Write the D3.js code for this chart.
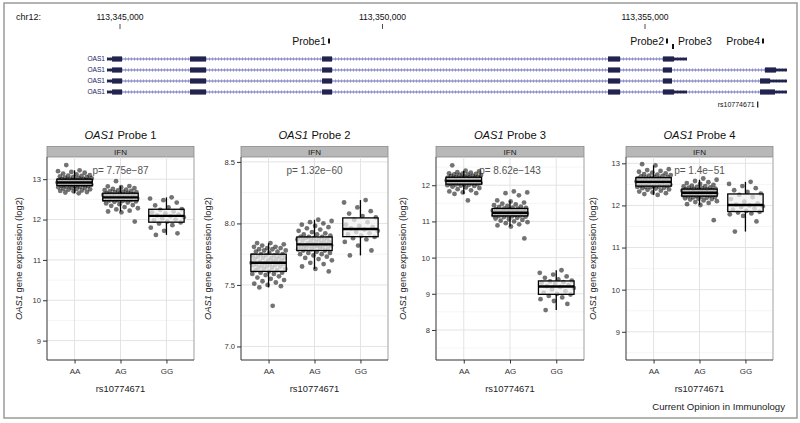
<!DOCTYPE html>
<html>
<head>
<meta charset="utf-8">
<script src="https://cdn.jsdelivr.net/npm/d3@7"></script>
<style>
  html, body { margin: 0; padding: 0; background: #fff; }
  svg { display: block; font-family: "Liberation Sans", Arial, Helvetica, sans-serif; }
</style>
</head>
<body>
<svg id="fig" width="800" height="423"></svg>
<script>
// ---------- data ----------
const genotypes = ["AA", "AG", "GG"];
const probeNames = ["Probe 1", "Probe 2", "Probe 3", "Probe 4"];
const pLabels = ["p= 7.75e\u221287", "p= 1.32e\u221260", "p= 8.62e\u2212143", "p= 1.4e\u221251"];

const probe1AA = [12.65, 12.67, 12.68, 12.70, 12.71, 12.72, 12.74, 12.75, 12.76, 12.77, 12.78, 12.79, 12.80, 12.81, 12.82, 12.83, 12.83,
  12.84, 12.85, 12.85, 12.86, 12.86, 12.87, 12.87, 12.88, 12.88, 12.89, 12.89, 12.90, 12.90, 12.90, 12.91, 12.91, 12.92, 12.92,
  12.92, 12.93, 12.93, 12.94, 12.94, 12.95, 12.95, 12.96, 12.96, 12.97, 12.97, 12.98, 12.98, 12.99, 12.99, 12.99, 13.00, 13.00,
  13.01, 13.02, 13.03, 13.04, 13.05, 13.06, 13.07, 13.08, 13.09, 13.10, 13.12, 13.14, 13.16, 13.18, 13.20, 13.22, 13.35];
const probe1AG = [11.95, 12.18, 12.20, 12.22, 12.25, 12.28, 12.31, 12.34, 12.36, 12.38, 12.40, 12.42, 12.44, 12.45, 12.46,
  12.47, 12.48, 12.48, 12.49, 12.50, 12.50, 12.51, 12.51, 12.52, 12.52, 12.53, 12.53, 12.54, 12.54, 12.55,
  12.55, 12.56, 12.56, 12.57, 12.58, 12.58, 12.59, 12.60, 12.60, 12.61, 12.62, 12.62, 12.63, 12.64, 12.65,
  12.66, 12.67, 12.68, 12.69, 12.70, 12.71, 12.72, 12.73, 12.74, 12.76, 12.78, 12.80, 12.82, 12.83, 12.95];
const probe1GG = [11.62, 11.66, 11.72, 11.80, 11.86, 11.90, 11.93, 11.95, 11.98, 12.00, 12.03, 12.06, 12.08, 12.10,
  12.12, 12.15, 12.18, 12.20, 12.24, 12.26, 12.30, 12.35, 12.42, 12.48, 12.52, 12.55];

const probe2AA = [7.33, 7.48, 7.49, 7.50, 7.51, 7.52, 7.53, 7.54, 7.55, 7.56, 7.57, 7.58, 7.59, 7.59, 7.60, 7.60,
  7.61, 7.62, 7.62, 7.63, 7.63, 7.64, 7.64, 7.65, 7.65, 7.66, 7.66, 7.66, 7.67, 7.67, 7.67, 7.68,
  7.68, 7.68, 7.69, 7.69, 7.70, 7.70, 7.71, 7.71, 7.72, 7.72, 7.72, 7.73, 7.73, 7.74, 7.74, 7.74,
  7.75, 7.75, 7.76, 7.77, 7.77, 7.78, 7.78, 7.79, 7.79, 7.80, 7.80, 7.81, 7.81, 7.82, 7.83, 7.84, 7.84];
const probe2AG = [7.61, 7.63, 7.65, 7.67, 7.68, 7.70, 7.71, 7.72, 7.73, 7.74, 7.75, 7.75, 7.76, 7.76, 7.77,
  7.78, 7.78, 7.79, 7.79, 7.80, 7.80, 7.80, 7.81, 7.81, 7.81, 7.82, 7.82, 7.82, 7.82, 7.83, 7.83,
  7.83, 7.84, 7.84, 7.85, 7.85, 7.86, 7.86, 7.86, 7.87, 7.87, 7.88, 7.88, 7.88, 7.89, 7.89, 7.89,
  7.90, 7.91, 7.91, 7.92, 7.93, 7.94, 7.95, 7.96, 7.97, 7.98, 7.99, 8.00, 8.01, 8.02, 8.03];
const probe2GG = [7.74, 7.78, 7.82, 7.85, 7.87, 7.88, 7.89, 7.90, 7.91, 7.92, 7.93, 7.94, 7.95, 7.96,
  7.97, 7.98, 7.99, 8.01, 8.03, 8.05, 8.06, 8.08, 8.10, 8.13, 8.17, 8.19];

const probe3AA = [11.58, 11.76, 11.78, 11.80, 11.83, 11.86, 11.89, 11.92, 11.94, 11.96, 11.98, 11.99, 12.00, 12.01, 12.02, 12.03,
  12.03, 12.04, 12.05, 12.05, 12.06, 12.07, 12.07, 12.08, 12.08, 12.09, 12.09, 12.10, 12.10, 12.11, 12.11, 12.12,
  12.12, 12.13, 12.13, 12.14, 12.15, 12.15, 12.16, 12.17, 12.17, 12.18, 12.18, 12.19, 12.20, 12.20, 12.21, 12.22,
  12.22, 12.23, 12.24, 12.25, 12.26, 12.27, 12.28, 12.29, 12.30, 12.31, 12.32, 12.33, 12.35, 12.36, 12.38, 12.40, 12.55];
const probe3AG = [10.53, 10.86, 10.89, 10.92, 10.95, 10.98, 11.00, 11.02, 11.04, 11.06, 11.08, 11.10, 11.12, 11.13, 11.14,
  11.15, 11.16, 11.17, 11.17, 11.18, 11.19, 11.19, 11.20, 11.20, 11.21, 11.21, 11.22, 11.22, 11.23, 11.23, 11.24,
  11.24, 11.25, 11.25, 11.26, 11.27, 11.27, 11.28, 11.29, 11.30, 11.30, 11.31, 11.32, 11.33, 11.34, 11.35, 11.36,
  11.37, 11.38, 11.40, 11.41, 11.43, 11.45, 11.47, 11.49, 11.52, 11.55, 11.58, 11.72, 11.78, 11.80, 11.83];
const probe3GG = [8.55, 8.72, 8.80, 8.85, 8.90, 8.94, 8.98, 9.00, 9.03, 9.07, 9.12, 9.16, 9.19, 9.21,
  9.24, 9.27, 9.30, 9.32, 9.34, 9.36, 9.40, 9.44, 9.48, 9.53, 9.58, 9.65];

const probe4AA = [12.25, 12.27, 12.29, 12.31, 12.33, 12.35, 12.37, 12.38, 12.40, 12.41, 12.42, 12.43, 12.44, 12.45, 12.45, 12.46,
  12.46, 12.47, 12.48, 12.49, 12.49, 12.50, 12.51, 12.51, 12.52, 12.53, 12.53, 12.54, 12.54, 12.55, 12.55, 12.56,
  12.56, 12.57, 12.57, 12.58, 12.59, 12.59, 12.60, 12.60, 12.61, 12.62, 12.62, 12.63, 12.63, 12.64, 12.64, 12.65,
  12.66, 12.67, 12.68, 12.69, 12.70, 12.71, 12.72, 12.73, 12.74, 12.76, 12.78, 12.80, 12.82, 12.84, 12.86, 12.95, 12.98];
const probe4AG = [11.65, 12.01, 12.03, 12.06, 12.08, 12.10, 12.12, 12.14, 12.15, 12.16, 12.17, 12.18, 12.19, 12.20, 12.21,
  12.22, 12.23, 12.23, 12.24, 12.25, 12.25, 12.26, 12.26, 12.27, 12.27, 12.28, 12.28, 12.29, 12.29, 12.30, 12.30,
  12.30, 12.31, 12.31, 12.32, 12.33, 12.33, 12.34, 12.34, 12.35, 12.35, 12.36, 12.37, 12.37, 12.38, 12.38, 12.39,
  12.40, 12.41, 12.42, 12.43, 12.44, 12.45, 12.46, 12.47, 12.49, 12.51, 12.53, 12.55, 12.58, 12.61, 12.64];
const probe4GG = [11.38, 11.62, 11.75, 11.79, 11.81, 11.83, 11.85, 11.87, 11.90, 11.93, 11.96, 11.98, 12.00,
  12.02, 12.05, 12.09, 12.15, 12.20, 12.25, 12.28, 12.32, 12.36, 12.41, 12.46, 12.51, 12.56];

const yDomains = [[8.52, 13.55], [6.89, 8.54], [7.17, 12.78], [8.33, 13.15]];
const yTicks = [[9, 10, 11, 12, 13], [7.0, 7.5, 8.0, 8.5], [8, 9, 10, 11, 12], [9, 10, 11, 12, 13]];
const yTickFormats = ["d", ".1f", "d", "d"];

// gene track (hg19 coordinates)
const coordTicks = [113345000, 113350000, 113355000];
const tx1 = [[113344752, 113344848, "utr"], [113344848, 113345038, "cds"], [113346333, 113346638, "cds"],
  [113348848, 113349038, "cds"], [113354295, 113354524, "cds"], [113355343, 113355552, "cds"], [113355552, 113355800, "utr"]];
const tx2 = [[113344752, 113344848, "utr"], [113344848, 113345038, "cds"], [113346333, 113346638, "cds"],
  [113348848, 113349038, "cds"], [113354295, 113354524, "cds"], [113355343, 113355514, "cds"],
  [113357286, 113357495, "cds"], [113357495, 113357705, "utr"]];
const tx3 = [[113344752, 113344848, "utr"], [113344848, 113345038, "cds"], [113346333, 113346638, "cds"],
  [113348848, 113349038, "cds"], [113354295, 113354524, "cds"], [113355343, 113355514, "cds"],
  [113357190, 113357381, "cds"], [113357381, 113357705, "utr"]];
const tx4 = [[113344752, 113344848, "utr"], [113344848, 113345038, "cds"], [113346333, 113346638, "cds"],
  [113348848, 113349038, "cds"], [113354295, 113354524, "cds"], [113355343, 113355552, "cds"], [113355552, 113355800, "utr"],
  [113357190, 113357476, "cds"], [113357476, 113357705, "utr"]];
const probeMarkNames = ["Probe1", "Probe2", "Probe3", "Probe4"];
const probeMarkPos = [113348981, 113355419, 113355533, 113357248];
const snpName = "rs10774671";
const snpPos = 113357147;

// ---------- layout ----------
const PANEL_X = [47, 241, 436, 626];
const PANEL_W = [147, 147, 148, 147];
const STRIP_TOP = 146.5, PANEL_TOP = 157, PANEL_BOTTOM = 360;
const YTITLE_OFF = [25, 30, 30, 30];
const BOX_W = 0.77, JITTER_W = 0.38;

const svg = d3.select("#fig");

svg.append("rect")
  .attr("x", 4).attr("y", 3).attr("width", 793).attr("height", 415)
  .attr("fill", "none").attr("stroke", "#9a9a9a").attr("stroke-width", 1.5);

// ---------- gene track ----------
function drawTrack() {
  const tx = d3.scaleLinear().domain([113345000, 113355000]).range([120, 645]);
  const g = svg.append("g").attr("class", "track");

  g.append("text").attr("x", 16).attr("y", 20)
    .attr("font-size", 9).attr("fill", "#111").text("chr12:");

  const fmt = d3.format(",");
  coordTicks.forEach(c => {
    g.append("text").attr("x", tx(c)).attr("y", 20).attr("text-anchor", "middle")
      .attr("font-size", 8.6).attr("fill", "#111").text(fmt(c));
    g.append("line").attr("x1", tx(c)).attr("x2", tx(c)).attr("y1", 24).attr("y2", 29)
      .attr("stroke", "#222").attr("stroke-width", 0.8);
  });

  probeMarkNames.forEach((name, i) => {
    const px = tx(probeMarkPos[i]);
    const low = name === "Probe3";
    g.append("rect").attr("x", px - 1).attr("y", low ? 44 : 38.5).attr("width", 2).attr("height", 5)
      .attr("fill", "#111");
    g.append("text")
      .attr("x", low ? px + 5 : px - 3)
      .attr("y", 44.5)
      .attr("text-anchor", low ? "start" : "end")
      .attr("font-size", 10.5).attr("fill", "#111").text(name);
  });

  const rowsY = [59, 70, 81, 92];
  [tx1, tx2, tx3, tx4].forEach((segs, r) => {
    const y = rowsY[r];
    const x0 = tx(d3.min(segs, s => s[0])), x1 = tx(d3.max(segs, s => s[1]));
    g.append("line").attr("x1", x0).attr("x2", x1).attr("y1", y).attr("y2", y)
      .attr("stroke", "#6a6ab4").attr("stroke-width", 1);
    g.append("line").attr("x1", x0).attr("x2", x1).attr("y1", y).attr("y2", y)
      .attr("stroke", "#8f8fcc").attr("stroke-width", 3).attr("stroke-dasharray", "1 2");
    g.selectAll(null).data(segs).join("rect")
      .attr("x", d => tx(d[0]))
      .attr("width", d => tx(d[1]) - tx(d[0]))
      .attr("y", d => d[2] === "cds" ? y - 2.6 : y - 1.4)
      .attr("height", d => d[2] === "cds" ? 5.2 : 2.8)
      .attr("fill", "#23234f");
    g.append("text").attr("x", x0 - 2).attr("y", y + 2.4).attr("text-anchor", "end")
      .attr("font-size", 6.6).attr("fill", "#23235f").text("OAS1");
  });

  const sx = tx(snpPos);
  g.append("rect").attr("x", sx - 0.6).attr("y", 101.5).attr("width", 1.2).attr("height", 6).attr("fill", "#111");
  g.append("text").attr("x", sx - 3).attr("y", 107).attr("text-anchor", "end")
    .attr("font-size", 7).attr("fill", "#111").text(snpName);
}

// ---------- box panels ----------
function drawPanel(i, groups) {
  const left = PANEL_X[i], w = PANEL_W[i];
  const x = d3.scalePoint().domain(genotypes).range([left, left + w]).padding(0.6);
  const unit = x.step();
  const y = d3.scaleLinear().domain(yDomains[i]).range([PANEL_BOTTOM, PANEL_TOP]);
  const g = svg.append("g").attr("class", "panel");

  // title
  const t = g.append("text").attr("x", left + w / 2).attr("y", 139)
    .attr("text-anchor", "middle").attr("font-size", 11.2).attr("fill", "#111");
  t.append("tspan").attr("font-style", "italic").text("OAS1");
  t.append("tspan").text(" " + probeNames[i]);

  // strip
  g.append("rect").attr("x", left).attr("y", STRIP_TOP).attr("width", w).attr("height", PANEL_TOP - STRIP_TOP)
    .attr("fill", "#b8b8b8").attr("stroke", "#8a8a8a").attr("stroke-width", 0.8);
  g.append("text").attr("x", left + w / 2).attr("y", STRIP_TOP + 8.3)
    .attr("text-anchor", "middle").attr("font-size", 8).attr("fill", "#1a1a1a").text("IFN");

  // grid
  const major = yTicks[i];
  const step = major[1] - major[0];
  const [d0, d1] = yDomains[i];
  const minor = d3.range(major[0] - step / 2, d1, step).filter(v => v >= d0 && v <= d1);
  g.append("g").selectAll("line").data(minor).join("line")
    .attr("x1", left).attr("x2", left + w).attr("y1", d => y(d)).attr("y2", d => y(d))
    .attr("stroke", "#f3f3f3").attr("stroke-width", 0.8);
  g.append("g").selectAll("line").data(major).join("line")
    .attr("x1", left).attr("x2", left + w).attr("y1", d => y(d)).attr("y2", d => y(d))
    .attr("stroke", "#e3e3e3").attr("stroke-width", 1);
  g.append("g").selectAll("line").data(genotypes).join("line")
    .attr("x1", d => x(d)).attr("x2", d => x(d)).attr("y1", PANEL_TOP).attr("y2", PANEL_BOTTOM)
    .attr("stroke", "#e3e3e3").attr("stroke-width", 1);

  // right edge
  g.append("line").attr("x1", left + w).attr("x2", left + w).attr("y1", PANEL_TOP).attr("y2", PANEL_BOTTOM)
    .attr("stroke", "#c4c4c4").attr("stroke-width", 1.6);

  // p-value
  g.append("text").attr("x", x("AG")).attr("y", 173.5).attr("text-anchor", "middle")
    .attr("font-size", 10).attr("fill", "#555").text(pLabels[i]);

  // jittered points
  genotypes.forEach((gt, k) => {
    const vals = groups[k];
    g.append("g").selectAll("circle").data(vals).join("circle")
      .attr("cx", (d, j) => x(gt) + ((((j + 1) * 0.6180339887 + k * 0.29) % 1) - 0.5) * 2 * JITTER_W * unit)
      .attr("cy", d => y(d))
      .attr("r", 2.4)
      .attr("fill", "#000")
      .attr("fill-opacity", 0.55);
  });

  // boxes
  genotypes.forEach((gt, k) => {
    const vals = groups[k].slice().sort(d3.ascending);
    const q1 = d3.quantile(vals, 0.25), med = d3.quantile(vals, 0.5), q3 = d3.quantile(vals, 0.75);
    const iqr = q3 - q1;
    const lo = d3.min(vals.filter(v => v >= q1 - 1.5 * iqr));
    const hi = d3.max(vals.filter(v => v <= q3 + 1.5 * iqr));
    const cx = x(gt), bw = BOX_W * unit;
    g.append("line").attr("x1", cx).attr("x2", cx).attr("y1", y(hi)).attr("y2", y(q3))
      .attr("stroke", "#000").attr("stroke-width", 1.3);
    g.append("line").attr("x1", cx).attr("x2", cx).attr("y1", y(q1)).attr("y2", y(lo))
      .attr("stroke", "#000").attr("stroke-width", 1.3);
    g.append("rect").attr("x", cx - bw / 2).attr("width", bw)
      .attr("y", y(q3)).attr("height", y(q1) - y(q3))
      .attr("fill", "#f0f0f0").attr("fill-opacity", 0.72)
      .attr("stroke", "#000").attr("stroke-width", 1.3);
    g.append("line").attr("x1", cx - bw / 2).attr("x2", cx + bw / 2).attr("y1", y(med)).attr("y2", y(med))
      .attr("stroke", "#000").attr("stroke-width", 2.4);
  });

  // axes
  const ya = g.append("g").attr("transform", `translate(${left},0)`)
    .call(d3.axisLeft(y).tickValues(major).tickFormat(d3.format(yTickFormats[i])).tickSize(4).tickPadding(2));
  ya.select(".domain").attr("stroke", "#333").attr("d", `M0,${PANEL_TOP}V${PANEL_BOTTOM}`);
  ya.selectAll(".tick line").attr("stroke", "#333");
  ya.selectAll(".tick text").attr("font-size", 7.6).attr("fill", "#333")
    .attr("font-family", "Liberation Sans, Arial, sans-serif");

  const xa = g.append("g").attr("transform", `translate(0,${PANEL_BOTTOM})`)
    .call(d3.axisBottom(x).tickSize(3.5).tickPadding(5));
  xa.select(".domain").attr("stroke", "#333").attr("d", `M${left},0H${left + w}`);
  xa.selectAll(".tick line").attr("stroke", "#333");
  xa.selectAll(".tick text").attr("font-size", 8).attr("fill", "#333")
    .attr("font-family", "Liberation Sans, Arial, sans-serif");

  // axis titles
  g.append("text").attr("x", left + w / 2).attr("y", 391.5).attr("text-anchor", "middle")
    .attr("font-size", 9.4).attr("fill", "#222").text("rs10774671");

  const yt = g.append("text")
    .attr("transform", `translate(${left - YTITLE_OFF[i]},${(PANEL_TOP + PANEL_BOTTOM) / 2}) rotate(-90)`)
    .attr("text-anchor", "middle").attr("font-size", 9.4).attr("fill", "#222");
  yt.append("tspan").attr("font-style", "italic").text("OAS1");
  yt.append("tspan").text(" gene expression (log2)");
}

drawTrack();

const probeGroups = [
  [probe1AA, probe1AG, probe1GG],
  [probe2AA, probe2AG, probe2GG],
  [probe3AA, probe3AG, probe3GG],
  [probe4AA, probe4AG, probe4GG]
];
probeGroups.forEach((groups, i) => drawPanel(i, groups));

svg.append("text").attr("x", 785).attr("y", 410).attr("text-anchor", "end")
  .attr("font-size", 9.6).attr("fill", "#222").text("Current Opinion in Immunology");
</script>
</body>
</html>
